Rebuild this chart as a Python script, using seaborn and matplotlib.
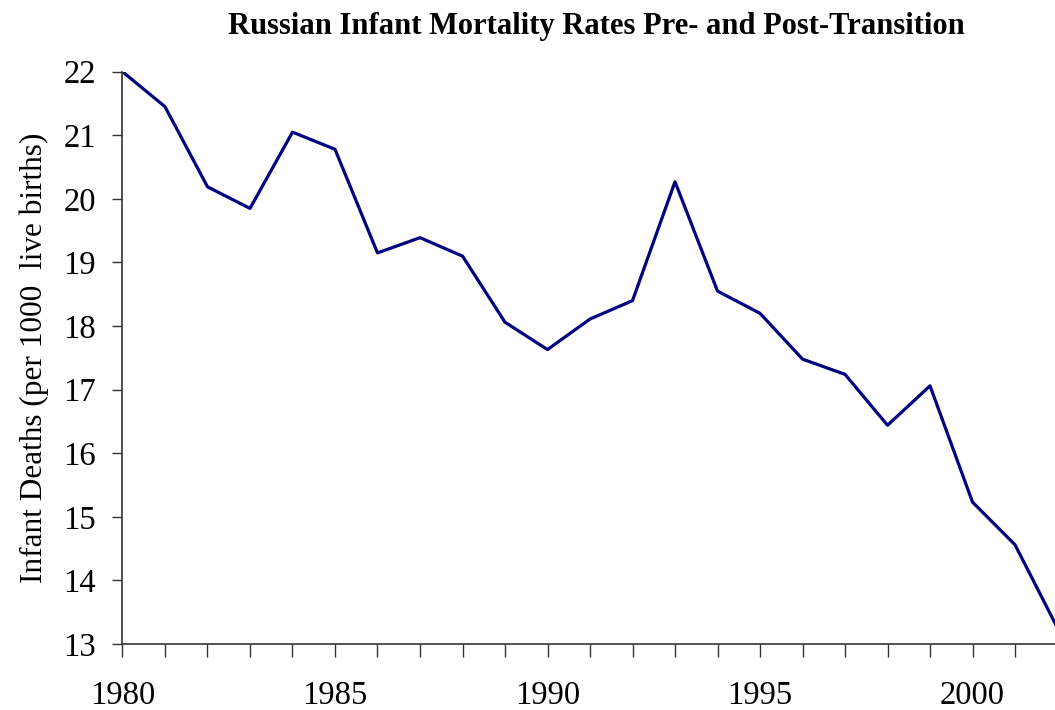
import matplotlib
matplotlib.use("Agg")
import matplotlib.pyplot as plt
from matplotlib.ticker import MultipleLocator
import seaborn as sns
import pandas as pd

# values
years = list(range(1980, 2003))
infant_deaths = [22.00, 21.45, 20.19, 19.85, 21.05, 20.78, 19.15, 19.39, 19.10,
                 18.06, 17.63, 18.11, 18.40, 20.27, 18.55, 18.20, 17.48, 17.24,
                 16.44, 17.06, 15.23, 14.56, 13.25]
y_ticks = list(range(13, 23))
x_tick_labels = [1980, 1985, 1990, 1995, 2000]

df = pd.DataFrame({"year": years, "rate": infant_deaths})

sns.set_theme(style="ticks")
plt.rcParams['font.family'] = ['Liberation Serif', 'DejaVu Serif']
plt.rcParams['text.color'] = 'black'
plt.rcParams['axes.labelcolor'] = 'black'
plt.rcParams['xtick.labelcolor'] = 'black'
plt.rcParams['ytick.labelcolor'] = 'black'

fig = plt.figure(figsize=(10.55, 7.10), dpi=100)
ax = fig.add_axes([0.1161, 0.0930, 0.8863, 0.8060])

sns.lineplot(data=df, x="year", y="rate", ax=ax, color="#000080", linewidth=2.3)

ax.set_xlim(1980, 2002)
ax.set_ylim(13, 22)
ax.set_yticks(y_ticks)
ax.set_xticks(x_tick_labels)
ax.xaxis.set_minor_locator(MultipleLocator(1))

ax.tick_params(axis="y", labelsize=23.5, length=7, width=1, color="#333333", pad=12)
ax.tick_params(axis="x", which="major", labelsize=23.5, length=9, width=1, color="#333333", pad=17)
ax.tick_params(axis="x", which="minor", length=9, width=1, color="#333333")

for side in ["left", "bottom"]:
    ax.spines[side].set_color("#333333")
    ax.spines[side].set_linewidth(1.2)
sns.despine(ax=ax)
ax.spines["bottom"].set_clip_on(False)

ax.set_xlabel("")
ax.set_ylabel("Infant Deaths (per 1000  live births)", fontsize=22.5, labelpad=10)

fig.text(0.565, 0.963, "Russian Infant Mortality Rates Pre- and Post-Transition",
         ha="center", va="center", fontsize=22, fontweight="bold")

fig.savefig("out.png", dpi=100)
